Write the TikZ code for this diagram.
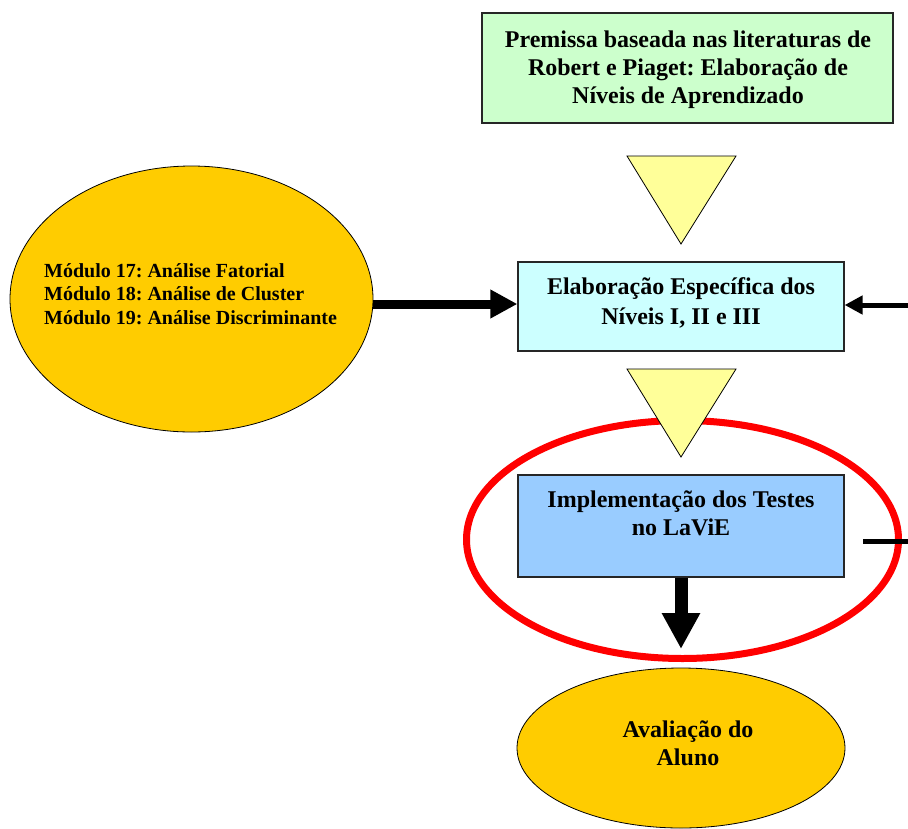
\documentclass[tikz,border=0pt]{standalone}
\usepackage{fontspec}
\setmainfont{Liberation Serif}
\usetikzlibrary{arrows.meta,shapes.geometric}
\definecolor{boxgreen}{HTML}{CCFFCC}
\definecolor{boxcyan}{HTML}{CCFFFF}
\definecolor{boxblue}{HTML}{99CCFF}
\definecolor{gold}{HTML}{FFCC00}
\definecolor{paleyellow}{HTML}{FFFF99}
\definecolor{ringred}{HTML}{FF0000}
\frenchspacing
\begin{document}
\begin{tikzpicture}[x=1pt,y=-1pt,
  box/.style={draw=black!85,line width=1.2pt,inner sep=0pt},
  oval/.style={ellipse,draw=black,line width=0.8pt,fill=gold,inner sep=0pt},
  label/.style={inner sep=0pt,align=center,font=\fontsize{24}{28}\selectfont\bfseries},
  funnel/.style={draw=black,line width=0.8pt,fill=paleyellow,line join=miter},
  bigarrow/.style={line width=9pt,-{Triangle[length=27pt,width=27pt]}},
  thinarrow/.style={line width=5pt,-{Triangle[length=18pt,width=18pt]}},
  downarrow/.style={line width=13pt,-{Triangle[length=36pt,width=36pt]}}]
\useasboundingbox (0,0) rectangle (908,828);

% premise box
\node[box,fill=boxgreen,minimum width=411pt,minimum height=110pt] (premissa) at (687.5,68) {};
\node[label] (premissatxt) at (688,70) {Premissa baseada nas literaturas de\\Robert e Piaget: Elaboração de\\Níveis de Aprendizado};

% highlight ring around the implementation step
\draw[ringred,line width=7pt] (682.5,539.5) ellipse [x radius=216pt,y radius=119pt];

% first funnel
\draw[funnel] (627,156) -- (736,156) -- (681,244) -- cycle;

% level elaboration box
\node[box,fill=boxcyan,minimum width=326pt,minimum height=89pt] (niveis) at (681,306.5) {};
\node[label,font=\fontsize{24}{30}\selectfont\bfseries] (niveistxt) at (681,303) {Elaboração Específica dos\\Níveis I, II e III};

% modules ellipse
\node[oval,minimum width=363pt,minimum height=266pt] (modulos) at (191.5,299) {};
\node[inner sep=0pt,anchor=west,align=left,font=\fontsize{20}{23.5}\selectfont\bfseries] (modulostxt) at (44,294)
  {Módulo 17: Análise Fatorial\\Módulo 18: Análise de Cluster\\Módulo 19: Análise Discriminante};

% second funnel
\draw[funnel] (627,369) -- (736,369) -- (681,457) -- cycle;

% implementation box
\node[box,fill=boxblue,minimum width=326pt,minimum height=102pt] (impl) at (681,526) {};
\node[label] (impltxt) at (681,513) {Implementação dos Testes\\no LaViE};

% student evaluation ellipse
\node[oval,minimum width=328pt,minimum height=160pt] (aval) at (681,748) {};
\node[label] (avaltxt) at (688,743) {Avaliação do\\Aluno};

% connectors
\coordinate (rightin) at (908,305);
\coordinate (rightstub) at (863,541);
\coordinate (rightend) at (908,541);
\draw[bigarrow] (modulos.east |- 0,304) -- (niveis.west |- 0,304);
\draw[thinarrow] (rightin) -- (niveis.east |- rightin);
\draw[line width=5pt] (rightstub) -- (rightend);
\draw[downarrow] (impl.south) -- (681,649);
\end{tikzpicture}
\end{document}
